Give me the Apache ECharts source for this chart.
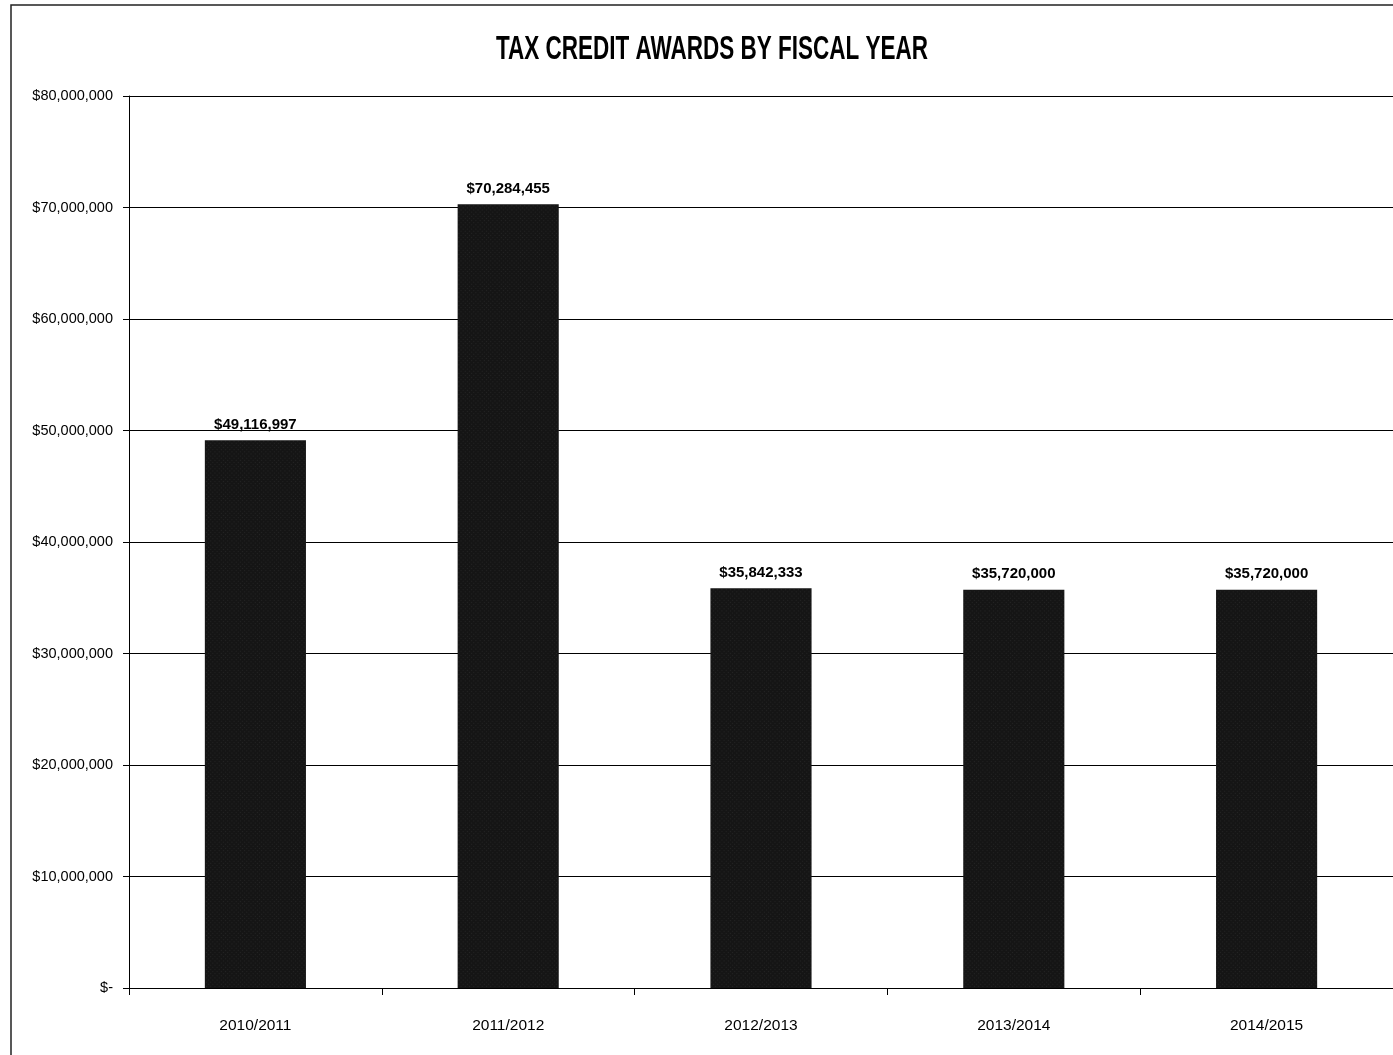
<!DOCTYPE html>
<html><head><meta charset="utf-8">
<script src="https://cdn.jsdelivr.net/npm/echarts@6/dist/echarts.min.js"></script>
<style>html,body{margin:0;padding:0;background:#fff}#c{width:1393px;height:1055px}</style>
</head><body><div id="c"></div>
<script>
const categories = ['2010/2011','2011/2012','2012/2013','2013/2014','2014/2015'];
const awards = [49116997, 70284455, 35842333, 35720000, 35720000];
const yTicks = [0,10000000,20000000,30000000,40000000,50000000,60000000,70000000,80000000];
const chartTitle = 'TAX CREDIT AWARDS BY FISCAL YEAR';
const FONT = '"Liberation Sans",Arial,sans-serif';
function money(v){ return v === 0 ? '$-' : '$' + v.toString().replace(/\B(?=(\d{3})+(?!\d))/g, ','); }
const chart = echarts.init(document.getElementById('c'), null, {renderer:'canvas'});
chart.setOption({
  animation:false,
  backgroundColor:'#fff',
  graphic:[
    {type:'rect', shape:{x:11, y:5, width:1400, height:1070}, style:{fill:'none', stroke:'#222', lineWidth:1.5}, silent:true},
    {type:'text', x:712, y:50, scaleX:1, scaleY:1.45, z:10,
      style:{text:chartTitle, fill:'#000', font:'bold 22.5px ' + FONT, textAlign:'center', textVerticalAlign:'middle'}}
  ],
  grid:{left:129, right:-1, top:96, bottom:67},
  xAxis:{type:'category', data:categories,
    axisLine:{lineStyle:{color:'#000', width:1}},
    axisTick:{show:true, length:7, lineStyle:{color:'#000'}},
    axisLabel:{margin:30, fontFamily:FONT, fontSize:15.5, color:'#000'}},
  yAxis:{type:'value', min:yTicks[0], max:yTicks[yTicks.length-1], interval:yTicks[1]-yTicks[0],
    axisLine:{show:true, lineStyle:{color:'#000', width:1}},
    axisTick:{show:true, length:6, lineStyle:{color:'#000'}},
    splitLine:{lineStyle:{color:'#000', width:1}},
    axisLabel:{margin:16, fontFamily:FONT, fontSize:14.5, color:'#000', formatter:money}},
  series:[{type:'bar', data:awards, barWidth:'40%',
    itemStyle:{color:'#151515',
      decal:{symbol:'rect', symbolSize:0.5, dashArrayX:[1,2], dashArrayY:[1,2], rotation:-Math.PI/4, color:'rgba(200,200,200,0.35)'}},
    label:{show:true, position:'top', distance:8, fontFamily:FONT, fontSize:15, fontWeight:'bold', color:'#000', formatter:p=>money(p.value)}}]
});
</script></body></html>
